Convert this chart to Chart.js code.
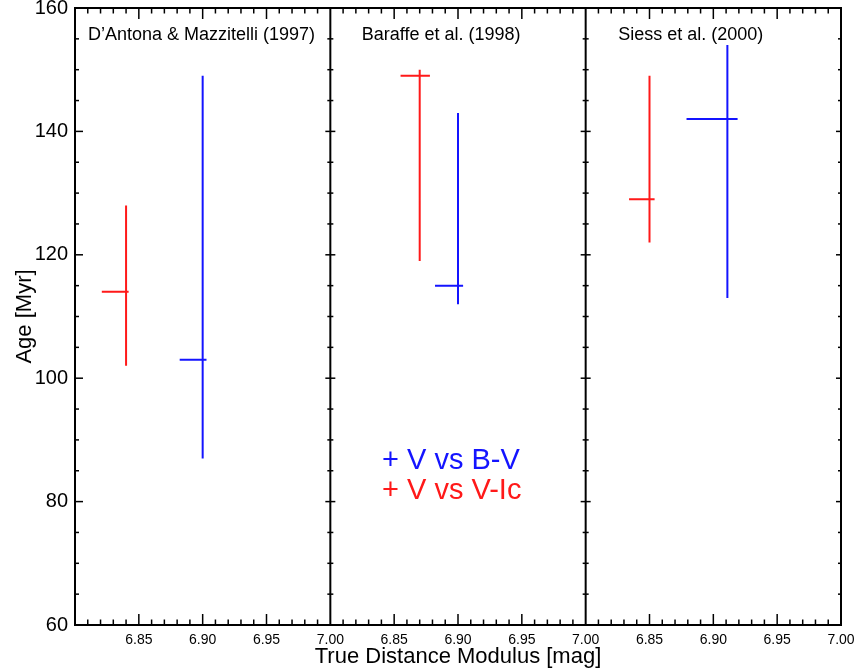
<!DOCTYPE html>
<html>
<head>
<meta charset="utf-8">
<script src="https://cdn.jsdelivr.net/npm/chart.js@4.4.1/dist/chart.umd.min.js"></script>
<style>
  html, body { margin: 0; padding: 0; background: #fff; }
  #wrap { width: 858px; height: 670px; position: relative; }
</style>
</head>
<body>
<div id="wrap"><canvas id="ageChart"></canvas></div>
<script>
// Model grids, one panel each
let models = ['D\u2019Antona & Mazzitelli (1997)', 'Baraffe et al. (1998)', 'Siess et al. (2000)'];

// V vs B-V fits (blue): distance modulus with its range, age with its range
let bvDist = [6.900, 6.900, 6.911];
let bvDistLo = [6.882, 6.882, 6.879];
let bvDistHi = [6.903, 6.904, 6.919];
let bvAge = [103, 115, 142];
let bvAgeLo = [87, 112, 113];
let bvAgeHi = [149, 143, 154];

// V vs V-Ic fits (red)
let viDist = [6.840, 6.870, 6.850];
let viDistLo = [6.821, 6.855, 6.834];
let viDistHi = [6.842, 6.878, 6.854];
let viAge = [114, 149, 129];
let viAgeLo = [102, 119, 122];
let viAgeHi = [128, 150, 149];

// Axis ranges
let xMin = 6.80;
let xMax = 7.00;
let xTickLabels = ['6.85', '6.90', '6.95', '7.00'];
let yMin = 60;
let yMax = 160;

const span = xMax - xMin;
const font = "'Liberation Sans', Arial, Helvetica, sans-serif";
Chart.defaults.font.family = font;
Chart.defaults.color = '#000';

// each panel sits on its own stretch of one shared x scale
function panelX(i, v) { return i * span + (v - xMin); }

function crossData(dist, distLo, distHi, age, ageLo, ageHi) {
    let pts = [];
    for (let i = 0; i < models.length; i++) {
        pts.push({x: panelX(i, dist[i]), y: ageLo[i]});
        pts.push({x: panelX(i, dist[i]), y: ageHi[i]});
        pts.push({x: panelX(i, dist[i]), y: null});
        pts.push({x: panelX(i, distLo[i]), y: age[i]});
        pts.push({x: panelX(i, distHi[i]), y: age[i]});
        pts.push({x: panelX(i, distHi[i]), y: null});
    }
    return pts;
}

let data = {
    datasets: [{
        label: 'V vs B-V',
        data: crossData(bvDist, bvDistLo, bvDistHi, bvAge, bvAgeLo, bvAgeHi),
        borderColor: 'rgb(20, 20, 255)',
        borderWidth: 2,
        pointRadius: 0,
        spanGaps: false
    },
    {
        label: 'V vs V-Ic',
        data: crossData(viDist, viDistLo, viDistHi, viAge, viAgeLo, viAgeHi),
        borderColor: 'rgb(255, 25, 25)',
        borderWidth: 2,
        pointRadius: 0,
        spanGaps: false
    }]
};

// Frames, inward ticks, panel titles and the text legend
const panelFrames = {
    id: 'panelFrames',
    afterDraw(chart) {
        const {ctx, chartArea: a, scales: {x, y}} = chart;
        const line = (x1, y1, x2, y2) => {
            ctx.beginPath(); ctx.moveTo(x1, y1); ctx.lineTo(x2, y2); ctx.stroke();
        };
        ctx.save();
        ctx.strokeStyle = '#000';
        ctx.lineWidth = 1.5;

        // x ticks every 0.01, longer every 0.05
        let steps = Math.round(span * 100);
        for (let i = 0; i < models.length; i++) {
            for (let k = 1; k < steps; k++) {
                const px = x.getPixelForValue(panelX(i, xMin + k * 0.01));
                const len = k % 5 === 0 ? 11 : 5.5;
                line(px, a.bottom, px, a.bottom - len);
                line(px, a.top, px, a.top + len);
            }
        }
        // y ticks every 5, longer every 20
        for (let v = yMin + 5; v < yMax; v += 5) {
            const py = y.getPixelForValue(v);
            const major = v % 20 === 0;
            for (let i = 0; i < models.length; i++) {
                const l = x.getPixelForValue(panelX(i, xMin));
                const r = x.getPixelForValue(panelX(i, xMax));
                const lenL = i === 0 ? (major ? 8 : 4) : (major ? 5 : 3);
                const lenR = major ? 5 : 3;
                line(l, py, l + lenL, py);
                line(r, py, r - lenR, py);
            }
        }

        ctx.lineWidth = 2;
        ctx.strokeRect(a.left, a.top, a.right - a.left, a.bottom - a.top);
        for (let i = 1; i < models.length; i++) {
            const px = x.getPixelForValue(i * span);
            line(px, a.top, px, a.bottom);
        }

        // panel titles
        ctx.fillStyle = '#000';
        ctx.font = '18px ' + font;
        ctx.textBaseline = 'alphabetic';
        const titleOffsets = [13, 31.5, 32.5];
        for (let i = 0; i < models.length; i++) {
            const l = x.getPixelForValue(panelX(i, xMin));
            ctx.fillText(models[i], l + titleOffsets[i], 40);
        }

        // legend text in the middle panel
        ctx.font = '29px ' + font;
        ctx.fillStyle = data.datasets[0].borderColor;
        ctx.fillText('+ ' + data.datasets[0].label, 382, 469);
        ctx.fillStyle = data.datasets[1].borderColor;
        ctx.fillText('+ ' + data.datasets[1].label, 382, 499);
        ctx.restore();
    }
};

const config = {
    type: 'line',
    data: data,
    options: {
        responsive: true,
        maintainAspectRatio: false,
        animation: false,
        events: [],
        layout: { padding: { left: 0, top: 8, right: 17, bottom: 0 } },
        plugins: { legend: { display: false }, tooltip: { enabled: false } },
        scales: {
            x: {
                type: 'linear',
                min: 0,
                max: span * models.length,
                grid: { display: false, drawTicks: true, tickLength: 7 },
                border: { display: false },
                afterFit: (s) => { s.height = 45; },
                ticks: {
                    stepSize: 0.05,
                    autoSkip: false,
                    maxRotation: 0,
                    padding: 0,
                    font: { size: 14 },
                    callback: (v) => {
                        const k = Math.round(v / 0.05);
                        if (k === 0) return '';
                        return xTickLabels[(k - 1) % xTickLabels.length];
                    }
                },
                title: {
                    display: true,
                    text: 'True Distance Modulus [mag]',
                    font: { size: 22 },
                    padding: { top: 0, bottom: 0 }
                }
            },
            y: {
                min: yMin,
                max: yMax,
                grid: { display: false, drawTicks: true, tickLength: 7 },
                border: { display: false },
                afterFit: (s) => { s.width = 75; },
                ticks: {
                    stepSize: 20,
                    padding: 0,
                    font: { size: 20, lineHeight: 0.8 }
                },
                title: {
                    display: true,
                    text: 'Age [Myr]',
                    font: { size: 22 },
                    padding: { top: 12, bottom: 0 }
                }
            }
        }
    },
    plugins: [panelFrames]
};

const theChart = new Chart(document.getElementById('ageChart'), config);
</script>
</body>
</html>
